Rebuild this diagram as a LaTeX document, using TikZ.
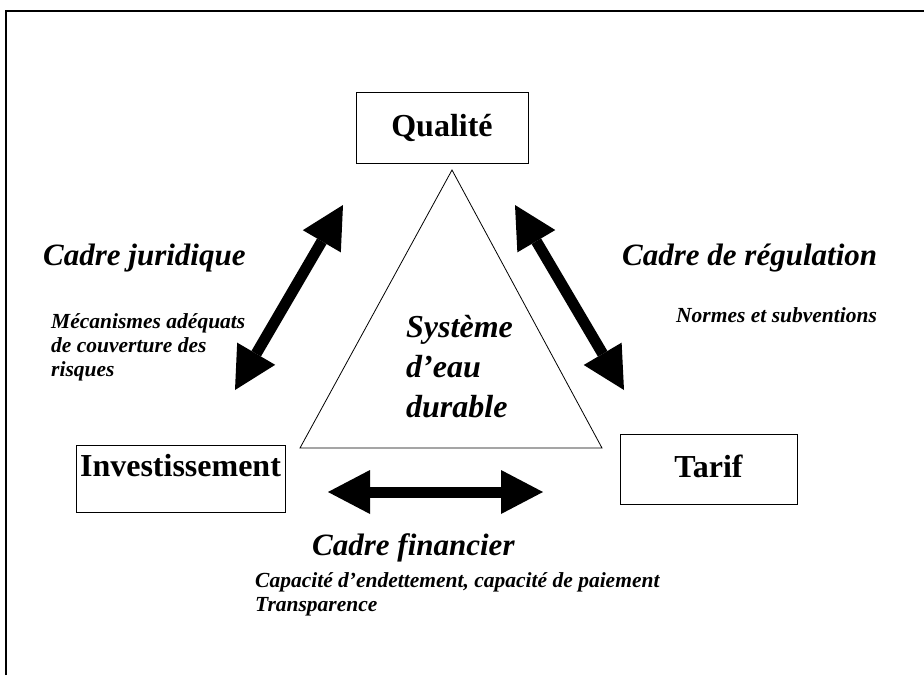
\documentclass[tikz,border=0pt]{standalone}
\usepackage{fontspec}
\setmainfont{Liberation Serif}
\usetikzlibrary{arrows.meta}
\tikzset{
  box/.style={draw, line width=0.8pt, inner sep=0pt,
    font=\bfseries\fontsize{32}{38}\selectfont},
  lbl/.style={anchor=base west, inner sep=0pt, align=left,
    font=\bfseries\itshape\fontsize{31}{37}\selectfont},
  sublbl/.style={lbl, font=\bfseries\itshape\fontsize{21.5}{24}\selectfont},
  bigarr/.style={line width=11pt,
    {Triangle[length=42pt,width=44pt,line width=0pt]}-{Triangle[length=42pt,width=44pt,line width=0pt]}},
  frameline/.style={line width=1.2pt},
}

\begin{document}
\begin{tikzpicture}[x=1pt, y=-1pt]
  \useasboundingbox (0,0) rectangle (924,675);
  \draw[frameline] (6,675) -- (6,11) -- (924,11);
  % corners
  \node[box, minimum width=172pt, minimum height=71pt] (qual) at (442,127.5) {Qualité};
  \node[box, anchor=north, minimum width=209pt, text height=31pt, text depth=36pt] (inv) at (180.5,445) {Investissement};
  \node[box, anchor=north, minimum width=177pt, text height=43pt, text depth=27pt] (tarif) at (708.5,434) {Tarif};
  % centre triangle
  \coordinate (apex) at (452,170);
  \coordinate (tl) at (300,448);
  \coordinate (tr) at (602,448);
  \draw[line width=0.8pt] (apex) -- (tl) -- (tr) -- cycle;
  \node[lbl, font=\bfseries\itshape\fontsize{32}{40}\selectfont] (sys) at (406,417) {Système\\d’eau\\durable};
  % arrows
  \coordinate (jur1) at (235,390); \coordinate (jur2) at (343,205);
  \coordinate (reg1) at (515,205); \coordinate (reg2) at (624,390);
  \coordinate (fin1) at (328,492); \coordinate (fin2) at (543,492);
  \draw[bigarr] (jur1) -- (jur2);
  \draw[bigarr] (reg1) -- (reg2);
  \draw[bigarr] (fin1) -- (fin2);
  % labels
  \node[lbl] (cjur) at (43,265) {Cadre juridique};
  \node[sublbl] (mec) at (51,376) {Mécanismes adéquats\\de couverture des\\risques};
  \node[lbl] (creg) at (622,265) {Cadre de régulation};
  \node[sublbl] (norm) at (676,322) {Normes et subventions};
  \node[lbl] (cfin) at (312,555) {Cadre financier};
  \node[sublbl] (cap) at (255,611) {Capacité d’endettement, capacité de paiement\\Transparence};
\end{tikzpicture}
\end{document}
